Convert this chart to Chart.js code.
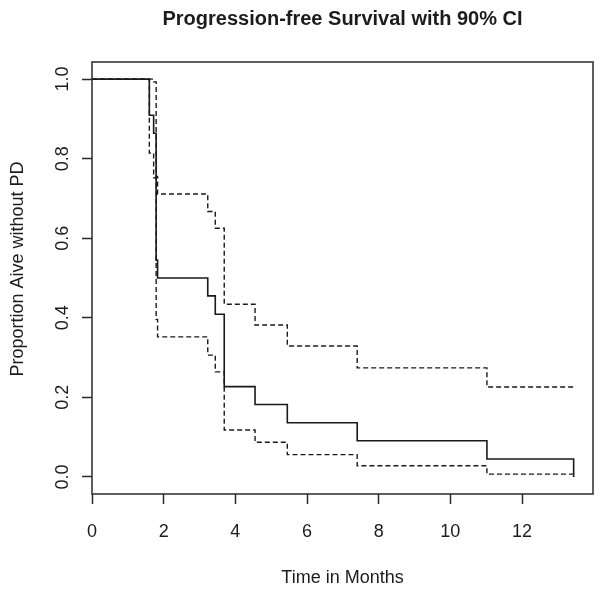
<!DOCTYPE html>
<html>
<head>
<meta charset="utf-8">
<script src="https://cdn.jsdelivr.net/npm/chart.js@4.4.1/dist/chart.umd.min.js"></script>
<style>
  html, body { margin: 0; padding: 0; background: #ffffff; }
  #wrap { width: 601px; height: 591px; position: relative; }
</style>
</head>
<body>
<div id="wrap"><canvas id="c"></canvas></div>
<script>
// ---- Data ----
const titleText = "Progression-free Survival with 90% CI";
const xAxisTitle = "Time in Months";
const yAxisTitle = "Proportion Aive without PD";

// step times (months); each value holds from its time onward
const times       = [0, 1.60, 1.72, 1.79, 1.83, 3.23, 3.44, 3.69, 4.55, 5.45, 7.40, 11.02, 13.44];
const survival    = [1.000, 0.909, 0.864, 0.545, 0.500, 0.455, 0.409, 0.227, 0.182, 0.136, 0.091, 0.045, 0.000];
const upperCI     = [1.000, 1.000, 0.993, 0.755, 0.711, 0.667, 0.625, 0.434, 0.382, 0.329, 0.274, 0.226, 0.226];
const lowerCI     = [1.000, 0.814, 0.752, 0.396, 0.352, 0.306, 0.264, 0.118, 0.087, 0.056, 0.028, 0.007, 0.007];

const xTickLabels = ["0", "2", "4", "6", "8", "10", "12"];
const yTickLabels = ["0.0", "0.2", "0.4", "0.6", "0.8", "1.0"];

function pts(xs, ys) { return xs.map((x, i) => ({ x: x, y: ys[i] })); }

const INK = "#1c1c1c";
const FONT = "'Liberation Sans', Arial, sans-serif";

const decor = {
  id: "decor",
  afterDraw(chart) {
    const ctx = chart.ctx;
    const a = chart.chartArea;
    const ys = chart.scales.y;
    ctx.save();
    // box
    ctx.strokeStyle = "#2a2a2a";
    ctx.lineWidth = 1.5;
    ctx.strokeRect(a.left, a.top, a.right - a.left, a.bottom - a.top);
    // y tick labels, rotated like R (las = 0)
    ctx.fillStyle = INK;
    ctx.font = "18px " + FONT;
    ctx.textAlign = "center";
    ctx.textBaseline = "middle";
    yTickLabels.forEach(lbl => {
      const py = ys.getPixelForValue(parseFloat(lbl));
      ctx.save();
      ctx.translate(63, py);
      ctx.rotate(-Math.PI / 2);
      ctx.fillText(lbl, 0, 0);
      ctx.restore();
    });
    // y axis title
    ctx.save();
    ctx.translate(18, (a.top + a.bottom) / 2 - 9);
    ctx.rotate(-Math.PI / 2);
    ctx.fillText(yAxisTitle, 0, 0);
    ctx.restore();
    // x axis title
    ctx.fillText(xAxisTitle, (a.left + a.right) / 2, 578);
    // main title
    ctx.font = "bold 20px " + FONT;
    ctx.fillText(titleText, (a.left + a.right) / 2, 19);
    ctx.restore();
  }
};

new Chart(document.getElementById("c"), {
  type: "line",
  data: {
    datasets: [
      {
        label: "Survival",
        data: pts(times, survival),
        stepped: "before",
        borderColor: "#1a1a1a",
        borderWidth: 1.6,
        pointRadius: 0,
        fill: false
      },
      {
        label: "Upper 90% CI",
        data: pts(times, upperCI),
        stepped: "before",
        borderColor: "#1a1a1a",
        borderWidth: 1.4,
        borderDash: [5, 3],
        pointRadius: 0,
        fill: false
      },
      {
        label: "Lower 90% CI",
        data: pts(times, lowerCI),
        stepped: "before",
        borderColor: "#1a1a1a",
        borderWidth: 1.4,
        borderDash: [5, 3],
        pointRadius: 0,
        fill: false
      }
    ]
  },
  options: {
    responsive: true,
    maintainAspectRatio: false,
    animation: false,
    layout: { padding: { left: 0, right: 8, top: 62, bottom: 0 } },
    plugins: {
      legend: { display: false },
      title: { display: false },
      tooltip: { enabled: false }
    },
    scales: {
      x: {
        type: "linear",
        min: 0,
        max: 13.98,
        afterFit(scale) { scale.height = 97; },
        border: { display: false },
        grid: {
          drawOnChartArea: false,
          drawTicks: true,
          tickLength: 10,
          tickColor: "#2a2a2a",
          tickWidth: 1.5
        },
        ticks: {
          stepSize: 2,
          includeBounds: false,
          color: INK,
          font: { family: FONT, size: 18 },
          padding: 17,
          maxRotation: 0,
          callback: (v) => {
            const i = Math.round(v / 2);
            return xTickLabels[i] !== undefined ? xTickLabels[i] : "";
          }
        }
      },
      y: {
        type: "linear",
        min: -0.043,
        max: 1.043,
        afterFit(scale) { scale.width = 92; },
        border: { display: false },
        grid: {
          drawOnChartArea: false,
          drawTicks: true,
          tickLength: 10,
          tickColor: "#2a2a2a",
          tickWidth: 1.5
        },
        ticks: {
          stepSize: 0.2,
          includeBounds: false,
          callback: () => ""
        }
      }
    }
  },
  plugins: [decor]
});
</script>
</body>
</html>
